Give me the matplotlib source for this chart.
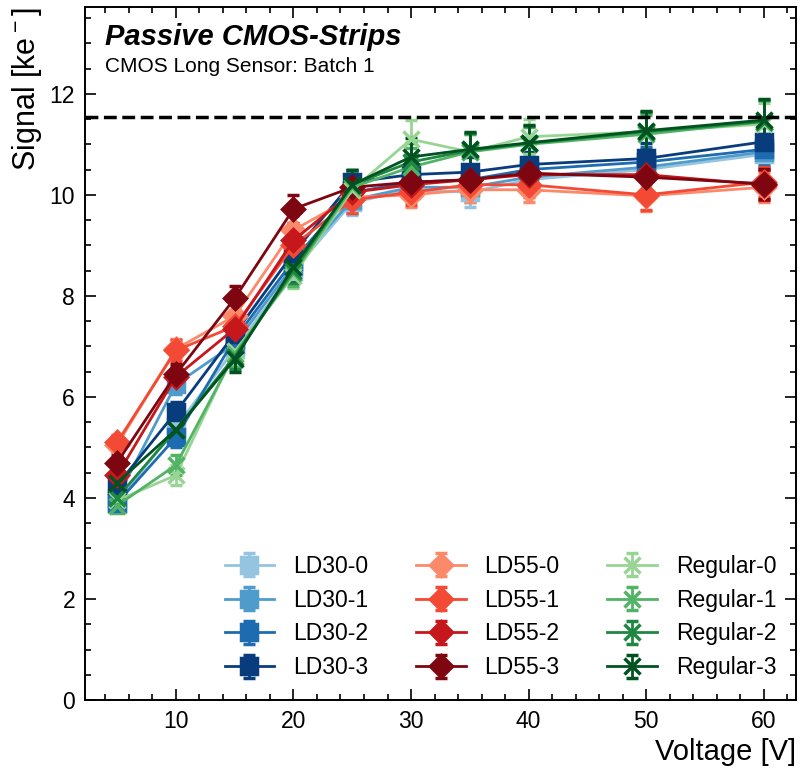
import numpy as np
import matplotlib
matplotlib.use("Agg")
import matplotlib.pyplot as plt
from matplotlib.ticker import MultipleLocator

plt.rcParams['font.family'] = ['Liberation Sans', 'DejaVu Sans']
plt.rcParams['mathtext.fontset'] = 'custom'
plt.rcParams['mathtext.rm'] = 'Liberation Sans'

# bias voltages [V]
volts = [5, 10, 15, 20, 25, 30, 35, 40, 50, 60]

# signal [ke-] per sensor
ld30_names = ["LD30-0", "LD30-1", "LD30-2", "LD30-3"]
ld30_sig = [
    [3.90, 5.40, 6.95, 8.50, 9.85, 10.10, 10.05, 10.30, 10.50, 10.80],
    [4.00, 6.25, 7.05, 8.60, 9.90, 10.15, 10.15, 10.35, 10.55, 10.85],
    [3.90, 5.20, 7.15, 8.70, 10.05, 10.25, 10.30, 10.50, 10.65, 10.90],
    [4.25, 5.70, 7.25, 8.85, 10.25, 10.40, 10.45, 10.60, 10.72, 11.05],
]
ld30_err = [0.15, 0.20, 0.20, 0.20, 0.25, 0.25, 0.30, 0.25, 0.30, 0.30]

ld55_names = ["LD55-0", "LD55-1", "LD55-2", "LD55-3"]
ld55_sig = [
    [5.05, 6.95, 7.60, 9.30, 9.95, 10.00, 10.10, 10.10, 9.98, 10.15],
    [5.10, 6.92, 7.40, 9.00, 9.90, 10.05, 10.20, 10.20, 10.00, 10.25],
    [4.45, 6.40, 7.35, 9.10, 10.05, 10.20, 10.30, 10.40, 10.40, 10.20],
    [4.70, 6.45, 7.95, 9.72, 10.15, 10.25, 10.30, 10.43, 10.35, 10.22],
]
ld55_err = [0.15, 0.20, 0.25, 0.28, 0.25, 0.25, 0.25, 0.25, 0.30, 0.30]

reg_names = ["Regular-0", "Regular-1", "Regular-2", "Regular-3"]
reg_sig = [
    [3.95, 4.45, 6.90, 8.40, 10.10, 11.10, 10.85, 11.15, 11.25, 11.40],
    [3.85, 4.65, 6.85, 8.45, 10.15, 10.55, 10.85, 11.00, 11.20, 11.45],
    [4.00, 5.35, 6.80, 8.50, 10.20, 10.65, 10.88, 11.02, 11.25, 11.45],
    [4.30, 5.35, 6.75, 8.57, 10.20, 10.75, 10.90, 11.03, 11.27, 11.48],
]
reg_err = [0.15, 0.20, 0.25, 0.25, 0.30, 0.38, 0.35, 0.35, 0.38, 0.42]

expected_signal = 11.55

fig = plt.figure(figsize=(8, 7.68), dpi=100)
ax = fig.add_axes([0.106, 0.0885, 0.889, 0.9025])

shades = np.linspace(0.4, 0.95, 4)
groups = [
    (ld30_names, ld30_sig, ld30_err, plt.cm.Blues, "s", 12),
    (ld55_names, ld55_sig, ld55_err, plt.cm.Reds, "D", 11),
    (reg_names, reg_sig, reg_err, plt.cm.Greens, "x", 11),
]
for names, sigs, errs, cmap, mk, ms in groups:
    for name, sig, shade in zip(names, sigs, shades):
        ax.errorbar(volts, sig, yerr=errs, label=name, color=cmap(shade),
                    marker=mk, markersize=ms, mew=2.5, lw=2, elinewidth=2,
                    capsize=4, capthick=2)

ax.axhline(expected_signal, color="black", ls="--", lw=2.5, zorder=5)

ax.set_xlim(2.25, 62.75)
ax.set_ylim(0, 13.72)
ax.xaxis.set_major_locator(MultipleLocator(10))
ax.xaxis.set_minor_locator(MultipleLocator(2))
ax.yaxis.set_major_locator(MultipleLocator(2))
ax.yaxis.set_minor_locator(MultipleLocator(0.5))
ax.tick_params(which="both", direction="in", top=True, right=True, labelsize=16.5, width=1.2)
ax.tick_params(which="major", length=8, pad=7)
ax.tick_params(which="minor", length=4)
for sp in ax.spines.values():
    sp.set_linewidth(1.4)

ax.set_xlabel("Voltage [V]", fontsize=21, loc="right")
ax.set_ylabel("Signal [ke$^-$]", fontsize=22, loc="top")

ax.text(0.028, 0.945, "Passive CMOS-Strips", transform=ax.transAxes, fontsize=21,
        fontweight="bold", fontstyle="italic", va="baseline", ha="left")
ax.text(0.028, 0.906, "CMOS Long Sensor: Batch 1", transform=ax.transAxes, fontsize=15,
        va="baseline", ha="left")

ax.legend(ncol=3, loc="lower right", fontsize=16.5, frameon=False,
          handlelength=2.18, handletextpad=0.83, columnspacing=2.05,
          labelspacing=0.47, borderaxespad=0, bbox_to_anchor=(0.985, 0.017))

fig.savefig("out.png", dpi=100)
